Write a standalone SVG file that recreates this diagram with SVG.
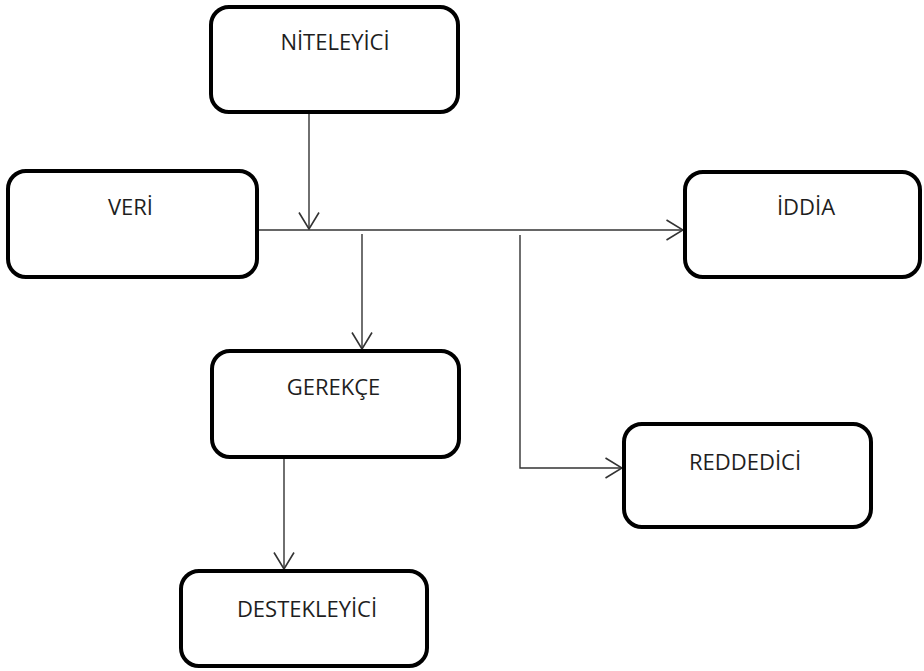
<svg xmlns="http://www.w3.org/2000/svg" width="924" height="671" viewBox="0 0 924 671">
<defs>
<style>
.box{fill:#fff;stroke:#000;stroke-width:4}
.lbl{font-family:"Open Sans","Liberation Sans",sans-serif;font-size:22px;fill:#1e1e1e;text-anchor:middle}
.con{fill:none;stroke:#333;stroke-width:1.4}
</style>
<marker id="arr" viewBox="0 0 20 22" refX="19.5" refY="11" markerWidth="20" markerHeight="22" markerUnits="userSpaceOnUse" orient="auto">
<path d="M3,1 L19.5,11 L3,21" fill="none" stroke="#333" stroke-width="1.6"/>
</marker>
</defs>
<rect width="924" height="671" fill="#fff"/>
<g id="connectors">
<path class="con" d="M259,230 H683" marker-end="url(#arr)"/>
<path class="con" d="M309,114 V229" marker-end="url(#arr)"/>
<path class="con" d="M362,234 V349" marker-end="url(#arr)"/>
<path class="con" d="M520,235 V468 H622" marker-end="url(#arr)"/>
<path class="con" d="M284,459 V569" marker-end="url(#arr)"/>
</g>
<g id="niteleyici"><rect class="box" x="211" y="7" width="247" height="105" rx="18"/><text class="lbl" x="335" y="50">NİTELEYİCİ</text></g>
<g id="veri"><rect class="box" x="8" y="171" width="249" height="106" rx="18"/><text class="lbl" x="130.5" y="215">VERİ</text></g>
<g id="iddia"><rect class="box" x="685" y="172" width="235" height="105" rx="18"/><text class="lbl" x="806" y="215">İDDİA</text></g>
<g id="gerekce"><rect class="box" x="212" y="351" width="247" height="106" rx="18"/><text class="lbl" x="333.5" y="395">GEREKÇE</text></g>
<g id="reddedici"><rect class="box" x="624" y="424" width="247" height="103" rx="18"/><text class="lbl" x="745" y="470">REDDEDİCİ</text></g>
<g id="destekleyici"><rect class="box" x="181" y="571" width="246" height="95" rx="18"/><text class="lbl" x="307" y="617">DESTEKLEYİCİ</text></g>
</svg>
